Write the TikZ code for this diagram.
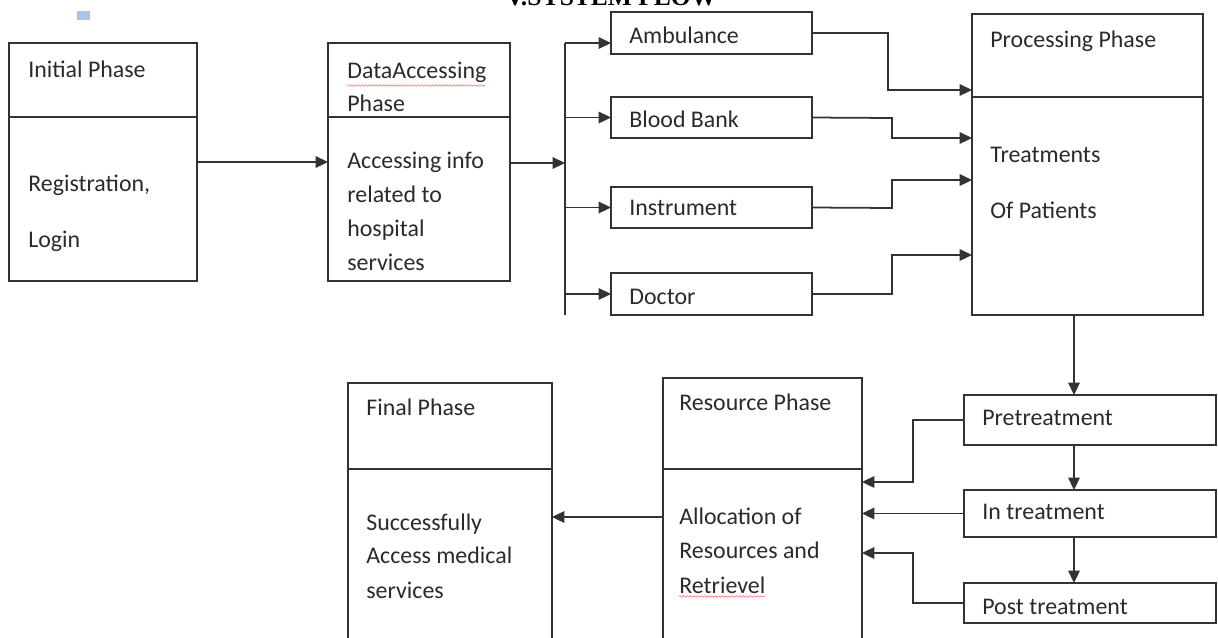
\documentclass[tikz,border=0pt]{standalone}
\usepackage{fontspec}
\setmainfont{Carlito}
\newfontfamily\titlefont{Liberation Serif}
\usetikzlibrary{arrows.meta,decorations.pathmorphing}
\definecolor{linec}{HTML}{333333}
\definecolor{textc}{HTML}{2A2A2A}
\definecolor{sqblue}{HTML}{A9C4E8}
\begin{document}
\begin{tikzpicture}[x=0.02cm,y=-0.02cm,
  box/.style={draw=linec, line width=1pt, anchor=north west, inner sep=0pt, outer sep=0pt},
  lbl/.style={anchor=base west, inner sep=0pt, text=textc, font=\fontsize{13.6}{16}\selectfont},
  arr/.style={draw=linec, line width=1pt, -{Triangle[length=7pt,width=6.5pt]}},
  ln/.style={draw=linec, line width=1pt},
  squig/.style={draw=red!55, line width=0.35pt, decorate, decoration={snake, amplitude=0.45pt, segment length=2pt}}
]
\clip (0,0) rectangle (1218,637);
% title and mark
\node[anchor=base, inner sep=0pt, font=\titlefont\bfseries\fontsize{14.5}{17}\selectfont] (title) at (611,5) {V.SYSTEM FLOW};
\fill[sqblue] (77,11) rectangle (90,20);
% boxes
\node[box, minimum width=3.76cm, minimum height=4.76cm] (init) at (9,43) {};
\node[box, minimum width=3.64cm, minimum height=4.76cm] (data) at (328,43) {};
\node[box, minimum width=4.02cm, minimum height=0.84cm] (amb) at (611,12) {};
\node[box, minimum width=4.02cm, minimum height=0.82cm] (blood) at (611,97) {};
\node[box, minimum width=4.02cm, minimum height=0.82cm] (instr) at (611,187) {};
\node[box, minimum width=4.02cm, minimum height=0.84cm] (doc) at (611,273) {};
\node[box, minimum width=4.62cm, minimum height=6.02cm] (proc) at (972,14) {};
\node[box, minimum width=5.04cm, minimum height=1.00cm] (pre) at (964,395) {};
\node[box, minimum width=5.04cm, minimum height=0.94cm] (intr) at (964,490) {};
\node[box, minimum width=5.04cm, minimum height=0.80cm] (post) at (964,583) {};
\node[box, minimum width=3.98cm, minimum height=5.60cm] (res) at (663,378) {};
\node[box, minimum width=4.08cm, minimum height=5.50cm] (fin) at (348,383) {};
% dividers
\draw[ln] (init.west |- 0,117) -- (init.east |- 0,117);
\draw[ln] (data.west |- 0,117) -- (data.east |- 0,117);
\draw[ln] (proc.west |- 0,97) -- (proc.east |- 0,97);
\draw[ln] (res.west |- 0,469) -- (res.east |- 0,469);
\draw[ln] (fin.west |- 0,469) -- (fin.east |- 0,469);
% bus
\coordinate (busT) at (565,43);
\coordinate (busB) at (565,315);
\coordinate (busM) at (565,163);
\coordinate (vx) at (1074,0);
\draw[ln] (busT) -- (busB);
\draw[arr] (init.east |- 0,162) -- (data.west |- 0,162);
\draw[arr] (data.east |- busM) -- (busM);
\draw[arr] (busT) -- (amb.west |- busT);
\draw[arr] (busT |- blood.west) -- (blood.west);
\draw[arr] (busT |- instr.west) -- (instr.west);
\draw[arr] (busT |- doc.west) -- (doc.west);
% to processing
\draw[arr] (amb.east) -- (888,33) -- (888,90) -- (proc.west |- 0,90);
\draw[arr] (blood.east) -- (892,118) -- (892,138) -- (proc.west |- 0,138);
\draw[arr] (instr.east) -- (892,208) -- (892,180) -- (proc.west |- 0,180);
\draw[arr] (doc.east) -- (892,294) -- (892,255) -- (proc.west |- 0,255);
% treatment chain
\draw[arr] (proc.south -| vx) -- (pre.north -| vx);
\draw[arr] (pre.south -| vx) -- (intr.north -| vx);
\draw[arr] (intr.south -| vx) -- (post.north -| vx);
% to resource
\draw[arr] (pre.west) -- (913,420) -- (913,482) -- (res.east |- 0,482);
\draw[arr] (intr.west) -- (res.east |- intr.west);
\draw[arr] (post.west) -- (913,603) -- (913,553) -- (res.east |- 0,553);
\draw[arr] (res.west |- 0,517) -- (fin.east |- 0,517);
% labels
\node[lbl] (t1) at (28,77) {Initial Phase};
\node[lbl] (t2) at (28,191) {Registration,};
\node[lbl] (t3) at (28,247) {Login};
\node[lbl] (d1) at (347,78) {DataAccessing};
\node[lbl] (d2) at (347,111) {Phase};
\node[lbl] (d3) at (347,168) {Accessing info};
\node[lbl] (d4) at (347,202) {related to};
\node[lbl] (d5) at (347,236) {hospital};
\node[lbl] (d6) at (347,270) {services};
\node[lbl] (a1) at (629,43) {Ambulance};
\node[lbl] (b1) at (629,127) {Blood Bank};
\node[lbl] (i1) at (629,215) {Instrument};
\node[lbl] (o1) at (629,304) {Doctor};
\node[lbl] (p1) at (990,47) {Processing Phase};
\node[lbl] (p2) at (990,162) {Treatments};
\node[lbl] (p3) at (990,218) {Of Patients};
\node[lbl] (q1) at (982,425) {Pretreatment};
\node[lbl] (q2) at (982,519) {In treatment};
\node[lbl] (q3) at (982,614) {Post treatment};
\node[lbl] (r1) at (679,410) {Resource Phase};
\node[lbl] (r2) at (679,524) {Allocation of};
\node[lbl] (r3) at (679,558) {Resources and};
\node[lbl] (r4) at (679,593) {Retrievel};
\node[lbl] (f1) at (366,415) {Final Phase};
\node[lbl] (f2) at (366,530) {Successfully};
\node[lbl] (f3) at (366,563) {Access medical};
\node[lbl] (f4) at (366,598) {services};
% spell-check squiggles
\draw[squig] (d1.south west) ++(0,3) -- ++(138,0);
\draw[squig] (r4.south west) ++(0,3) -- ++(86,0);
\end{tikzpicture}
\end{document}
